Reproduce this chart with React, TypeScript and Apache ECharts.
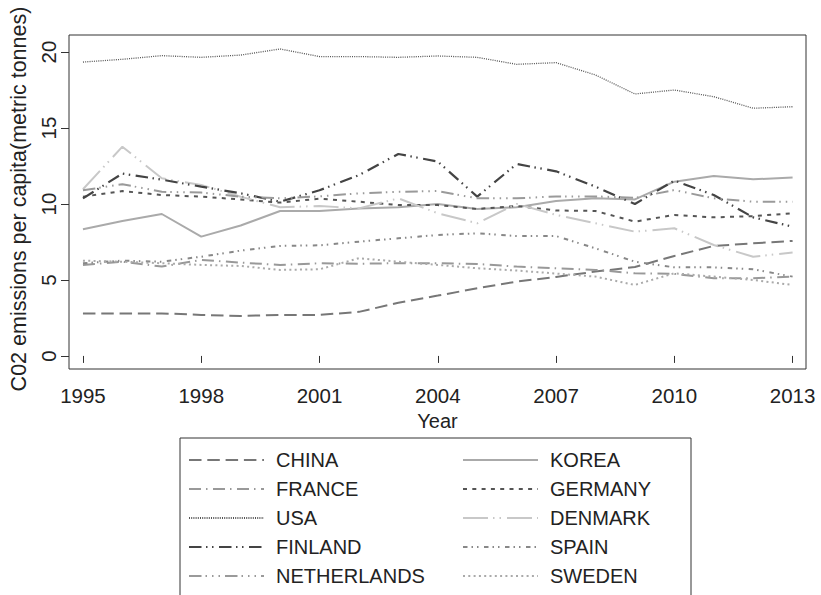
import React, { useEffect, useRef } from "react";
import * as echarts from "echarts";

const years = [1995, 1996, 1997, 1998, 1999, 2000, 2001, 2002, 2003, 2004, 2005, 2006, 2007, 2008, 2009, 2010, 2011, 2012, 2013];
const xTicks = [1995, 1998, 2001, 2004, 2007, 2010, 2013];
const yTicks = [0, 5, 10, 15, 20];

const china = [2.8, 2.8, 2.8, 2.7, 2.63, 2.7, 2.7, 2.9, 3.5, 3.97, 4.45, 4.89, 5.2, 5.55, 5.85, 6.58, 7.24, 7.41, 7.57];
const korea = [8.33, 8.88, 9.34, 7.85, 8.58, 9.54, 9.54, 9.71, 9.78, 10.0, 9.67, 9.78, 10.2, 10.37, 10.3, 11.47, 11.84, 11.62, 11.75];
const france = [5.99, 6.2, 5.88, 6.32, 6.14, 5.99, 6.1, 6.07, 6.1, 6.1, 6.05, 5.88, 5.77, 5.66, 5.44, 5.4, 5.11, 5.11, 5.22];
const germany = [10.48, 10.85, 10.59, 10.48, 10.3, 10.09, 10.35, 10.15, 9.93, 9.93, 9.67, 9.87, 9.57, 9.54, 8.84, 9.28, 9.12, 9.2, 9.39];
const usa = [19.34, 19.52, 19.76, 19.65, 19.8, 20.2, 19.7, 19.7, 19.65, 19.74, 19.65, 19.19, 19.3, 18.49, 17.24, 17.5, 17.06, 16.3, 16.4];
const denmark = [10.97, 13.77, 11.69, 11.25, 10.48, 9.78, 9.87, 9.71, 10.37, 9.39, 8.73, 10.0, 9.28, 8.73, 8.18, 8.4, 7.3, 6.53, 6.8];
const finland = [10.37, 12.0, 11.6, 11.14, 10.7, 10.15, 10.9, 11.9, 13.29, 12.79, 10.48, 12.63, 12.15, 11.14, 10.0, 11.54, 10.59, 9.12, 8.51];
const spain = [6.1, 6.27, 6.2, 6.53, 6.93, 7.24, 7.28, 7.52, 7.74, 7.96, 8.07, 7.89, 7.89, 7.08, 6.2, 5.83, 5.83, 5.7, 5.22];
const netherlands = [10.9, 11.3, 10.8, 10.75, 10.48, 10.37, 10.5, 10.7, 10.8, 10.85, 10.37, 10.37, 10.5, 10.5, 10.4, 10.92, 10.37, 10.15, 10.15];
const sweden = [6.27, 6.2, 6.1, 5.99, 5.92, 5.66, 5.7, 6.43, 6.2, 5.99, 5.77, 5.62, 5.42, 5.22, 4.67, 5.44, 5.22, 5.0, 4.67];

const leftNames = ["CHINA", "FRANCE", "USA", "FINLAND", "NETHERLANDS"];
const rightNames = ["KOREA", "GERMANY", "DENMARK", "SPAIN", "SWEDEN"];

const FONT = "Liberation Sans, Arial, Helvetica, sans-serif";

function mk(name: string, values: number[], color: string, dash: number[] | "solid", width: number) {
  return {
    name,
    type: "line",
    data: years.map((y, i) => [y, values[i]]),
    symbol: "none",
    showSymbol: false,
    lineStyle: { color, width, type: dash },
    itemStyle: { color },
    emphasis: { disabled: true },
  };
}

export default function App() {
  const ref = useRef<HTMLDivElement>(null);
  useEffect(() => {
    if (!ref.current) return;
    const chart = echarts.init(ref.current, null, { renderer: "svg" });
    const legendCommon = {
      orient: "vertical",
      padding: 0,
      itemWidth: 75,
      itemHeight: 20,
      itemGap: 9,
      top: 450,
      height: 150,
      selectedMode: false,
      itemStyle: { opacity: 0 },
      textStyle: { fontFamily: FONT, fontSize: 20, color: "#222", padding: [0, 0, 0, 7] },
    };
    chart.setOption({
      animation: false,
      backgroundColor: "#fff",
      textStyle: { fontFamily: FONT },
      grid: {
        left: 66,
        top: 35,
        width: 740,
        height: 334,
        show: true,
        borderColor: "#333",
        borderWidth: 1,
        backgroundColor: "#fff",
      },
      xAxis: {
        type: "value",
        min: 1994.646,
        max: 2013.34,
        name: "Year",
        nameLocation: "middle",
        nameGap: 33,
        nameTextStyle: { fontFamily: FONT, fontSize: 20, color: "#222" },
        axisLine: { show: false },
        axisTick: { show: true, length: 7, customValues: xTicks, lineStyle: { color: "#333" } },
        axisLabel: {
          customValues: xTicks,
          formatter: (v: number) => String(v),
          fontFamily: FONT,
          fontSize: 20.5,
          color: "#222",
          margin: 16,
        },
        splitLine: { show: false },
      },
      yAxis: {
        type: "value",
        min: -0.86,
        max: 21.12,
        name: "C02 emissions per capita(metric tonnes)",
        nameLocation: "middle",
        nameGap: 39,
        nameRotate: 90,
        nameTextStyle: { fontFamily: FONT, fontSize: 21.5, color: "#222", padding: [0, 0, 0, 6] },
        axisLine: { show: false },
        axisTick: { show: true, length: 8, customValues: yTicks, lineStyle: { color: "#333" } },
        axisLabel: {
          customValues: yTicks,
          formatter: (v: number) => String(v),
          rotate: 90,
          fontFamily: FONT,
          fontSize: 20.5,
          color: "#222",
          margin: 10,
        },
        splitLine: { show: false },
      },
      legend: [
        { ...legendCommon, left: 188, data: leftNames },
        { ...legendCommon, left: 462, data: rightNames },
      ],
      graphic: [
        {
          type: "rect",
          shape: { x: 180, y: 438, width: 511, height: 200 },
          style: { fill: "none", stroke: "#333", lineWidth: 1 },
          silent: true,
        },
      ],
      series: [
        mk("CHINA", china, "#777", [12.5, 5.8], 2),
        mk("KOREA", korea, "#aaa", "solid", 2),
        mk("FRANCE", france, "#999", [12, 5, 1.5, 5.5], 2),
        mk("GERMANY", germany, "#555", [4, 5.3], 2),
        mk("USA", usa, "#555", [1, 1.2], 1.3),
        mk("DENMARK", denmark, "#c8c8c8", [25, 5, 1.5, 5, 1.5, 6], 2),
        mk("FINLAND", finland, "#444", [12.5, 4.5, 1.5, 4.5, 1.5, 5.5], 2.2),
        mk("SPAIN", spain, "#888", [4.5, 4, 1.5, 4, 1.5, 5.5], 2),
        mk("NETHERLANDS", netherlands, "#9a9a9a", [12.5, 4, 1.5, 5, 1.5, 5, 1.5, 5], 2),
        mk("SWEDEN", sweden, "#aaa", [2, 3.3], 2),
      ],
    });
    return () => chart.dispose();
  }, []);
  return <div ref={ref} style={{ width: 821, height: 595, position: "absolute", left: 0, top: 0 }} />;
}
